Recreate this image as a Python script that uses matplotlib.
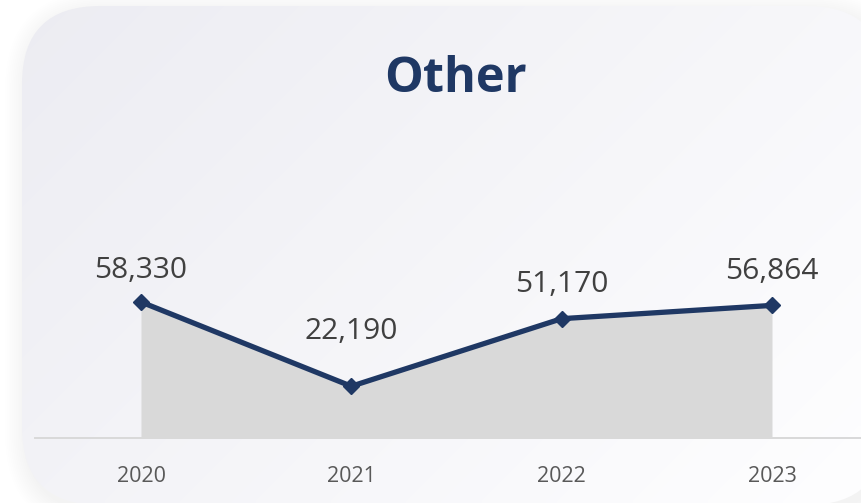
import numpy as np
import matplotlib
matplotlib.use("Agg")
import matplotlib.pyplot as plt
from matplotlib.patches import FancyBboxPatch

# ---- data ----
title = "Other"
years = ["2020", "2021", "2022", "2023"]
values = [58330, 22190, 51170, 56864]
value_labels = ["58,330", "22,190", "51,170", "56,864"]

# ---- style ----
NAVY = "#1F3864"
AREA = "#D9D9D9"
TXT = "#404040"
TICK = "#595959"
label_offsets_pt = [17, 34, 19, 19]   # vertical offset of value labels (points)

plt.rcParams['font.family'] = ['Open Sans', 'DejaVu Sans']

W, H = 861, 503
fig = plt.figure(figsize=(W / 100, H / 100), dpi=100)
fig.patch.set_facecolor("white")

# background card
bg = fig.add_axes([0, 0, 1, 1], zorder=0)
bg.set_xlim(0, W)
bg.set_ylim(H, 0)
bg.axis("off")

cx0, cy0, cx1, cy1, rad = 22, 6, 885, 505, 78
# soft shadow
for i in range(12):
    g = 1 + i * 1.8
    sh = FancyBboxPatch((cx0 - g + 4, cy0 - g + 6), (cx1 - cx0) + 2 * g, (cy1 - cy0) + 2 * g,
                        boxstyle=f"round,pad=0,rounding_size={rad + g}",
                        facecolor="#9a9aa8", edgecolor="none", alpha=0.007)
    bg.add_patch(sh)
card = FancyBboxPatch((cx0, cy0), cx1 - cx0, cy1 - cy0,
                      boxstyle=f"round,pad=0,rounding_size={rad}",
                      facecolor="none", edgecolor="none")
bg.add_patch(card)
xx, yy = np.meshgrid(np.linspace(0, 1, 200), np.linspace(0, 1, 120))
t = np.clip((xx * W + yy * H) / (W + H), 0, 1)
c0 = np.array([236, 236, 242]) / 255.0
c1 = np.array([254, 254, 255]) / 255.0
img = c0[None, None, :] * (1 - t[..., None]) + c1[None, None, :] * t[..., None]
im = bg.imshow(img, extent=[0, W, H, 0], aspect="auto", zorder=1, interpolation="bilinear")
im.set_clip_path(card)

# title
fig.text(455 / W, 1 - 92 / H, title, ha="center", va="baseline",
         fontsize=35, fontweight="bold", color=NAVY)

# main axes
px0, px_step = 141, 210.33
x_left_px, x_right_px = 35, 861
base_px = 438
scale = 0.002332  # px per unit
ytop = 100000
ax = fig.add_axes([x_left_px / W, (H - base_px) / H, (x_right_px - x_left_px) / W, ytop * scale / H],
                  zorder=2)
ax.set_facecolor("none")
xs = np.arange(len(years))
ax.set_xlim((x_left_px - px0) / px_step, (x_right_px - px0) / px_step)
ax.set_ylim(0, ytop)

ax.fill_between(xs, values, 0, color=AREA, linewidth=0, zorder=1)
ax.plot(xs, values, color=NAVY, linewidth=3.8, marker="D", markersize=8,
        solid_joinstyle="round", zorder=3, clip_on=False)

for x, v, lab, off in zip(xs, values, value_labels, label_offsets_pt):
    ax.annotate(lab, (x, v), xytext=(0, off), textcoords="offset points",
                ha="center", va="baseline", fontsize=21.5, color=TXT)

for s in ["top", "right", "left"]:
    ax.spines[s].set_visible(False)
ax.spines["bottom"].set_color(AREA)
ax.spines["bottom"].set_linewidth(1.4)
ax.set_yticks([])
ax.set_xticks(xs)
ax.set_xticklabels(years, fontsize=15.5, color=TICK)
ax.tick_params(axis="x", length=0, pad=20.5)

fig.savefig("out.png", dpi=100, facecolor=fig.get_facecolor())
